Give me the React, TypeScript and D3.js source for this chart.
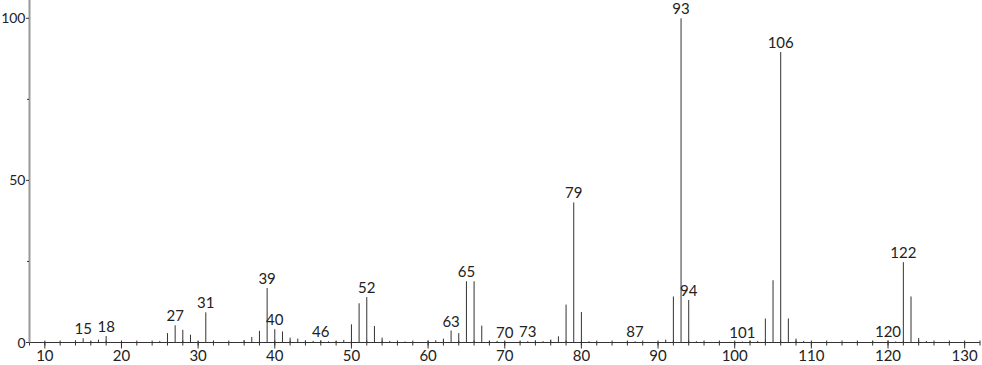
import React from "react";
import * as d3 from "d3";

const W = 982;
const H = 365;

// m/z values and relative intensities (%)
const mzValues = [
  14, 15, 16, 17, 18, 25, 26, 27, 28, 29, 30, 31, 32, 36, 37, 38, 39, 40, 41, 42, 43, 44, 45, 46, 47, 48, 49,
  50, 51, 52, 53, 54, 55, 56, 57, 60, 61, 62, 63, 64, 65, 66, 67, 68, 69, 70, 72, 73, 74, 75, 76, 77, 78, 79,
  80, 81, 86, 87, 91, 92, 93, 94, 95, 96, 101, 102, 103, 104, 105, 106, 107, 108, 109, 118, 120, 121, 122,
  123, 124, 125,
];
const intensities = [
  0.6, 1.3, 0.3, 0.9, 2.0, 0.5, 2.9, 5.3, 3.9, 2.4, 0.4, 9.3, 0.5, 0.7, 1.7, 3.6, 16.8, 4.1, 3.4, 1.5, 1.2, 0.6,
  0.5, 0.6, 0.4, 0.4, 0.8, 5.6, 12.1, 14.0, 5.1, 1.5, 0.5, 0.2, 0.3, 0.6, 0.7, 1.2, 3.7, 2.9, 18.9, 18.9, 5.2, 0.5,
  0.5, 0.3, 0.3, 0.4, 0.6, 0.4, 0.9, 1.9, 11.7, 43.2, 9.4, 0.4, 0.3, 0.4, 0.9, 14.2, 100, 13.1, 0.4, 0.2, 0.3,
  0.5, 0.5, 7.4, 19.2, 89.6, 7.4, 1.2, 0.5, 0.5, 0.6, 0.3, 24.8, 14.2, 1.4, 0.5,
];
const labeledMz = [15, 18, 27, 31, 39, 40, 46, 52, 63, 65, 70, 73, 79, 87, 93, 94, 101, 106, 120, 122];

const xTickLabels = [10, 20, 30, 40, 50, 60, 70, 80, 90, 100, 110, 120, 130];
const xMinorTicks = d3.range(8, 133, 2);
const yTickLabels = [0, 50, 100];
const yMinorTicks = [25, 75];

const FONT = "Lato, 'DejaVu Sans', sans-serif";
const FS = 15;
const FS_Y = 14;

export default function App() {
  const x = d3.scaleLinear().domain([8, 132]).range([29.5, 980]);
  const y = d3.scaleLinear().domain([0, 100]).range([342.5, 18.3]);
  const y0 = y(0);

  const peaks = mzValues.map((m, i) => ({ m, v: intensities[i] }));
  const peakOf = (m: number) => peaks.find((p) => p.m === m);

  return (
    <svg
      width={W}
      height={H}
      style={{ position: "absolute", left: 0, top: 0, background: "#fff" }}
    >
      {/* peaks */}
      {peaks.map((p) => (
        <line
          key={p.m}
          x1={x(p.m)}
          x2={x(p.m)}
          y1={y0}
          y2={y(p.v)}
          stroke="#333"
          strokeWidth={1}
        />
      ))}
      {/* x axis */}
      <line x1={29} x2={980} y1={y0} y2={y0} stroke="#333" strokeWidth={1} />
      {xMinorTicks.map((t) => (
        <line key={"mn" + t} x1={x(t)} x2={x(t)} y1={y0 - 2} y2={y0 + 3} stroke="#333" strokeWidth={1} />
      ))}
      {xTickLabels.map((t) => (
        <g key={"mj" + t}>
          <line x1={x(t)} x2={x(t)} y1={y0} y2={y0 + 6} stroke="#333" strokeWidth={1} />
          <text x={x(t)} y={361} textAnchor="middle" fontFamily={FONT} fontSize={FS} fill="#222">
            {t}
          </text>
        </g>
      ))}
      {/* y axis */}
      <line x1={29.5} x2={29.5} y1={0} y2={y0} stroke="#999" strokeWidth={2} />
      {yTickLabels.map((t) => (
        <g key={"yt" + t}>
          <line x1={26} x2={29} y1={y(t)} y2={y(t)} stroke="#333" strokeWidth={1} />
          <text x={25.5} y={y(t)} dy="0.36em" textAnchor="end" fontFamily={FONT} fontSize={FS_Y} fill="#222">
            {t}
          </text>
        </g>
      ))}
      {yMinorTicks.map((t) => (
        <line key={"ym" + t} x1={27} x2={29} y1={y(t)} y2={y(t)} stroke="#333" strokeWidth={1} />
      ))}
      {/* peak labels */}
      {labeledMz.map((m) => {
        const p = peakOf(m);
        const v = p ? p.v : 0;
        return (
          <text
            key={"lb" + m}
            x={x(m)}
            y={y(v) - 4}
            textAnchor="middle"
            fontFamily={FONT}
            fontSize={FS}
            fill="#222"
          >
            {m}
          </text>
        );
      })}
    </svg>
  );
}
